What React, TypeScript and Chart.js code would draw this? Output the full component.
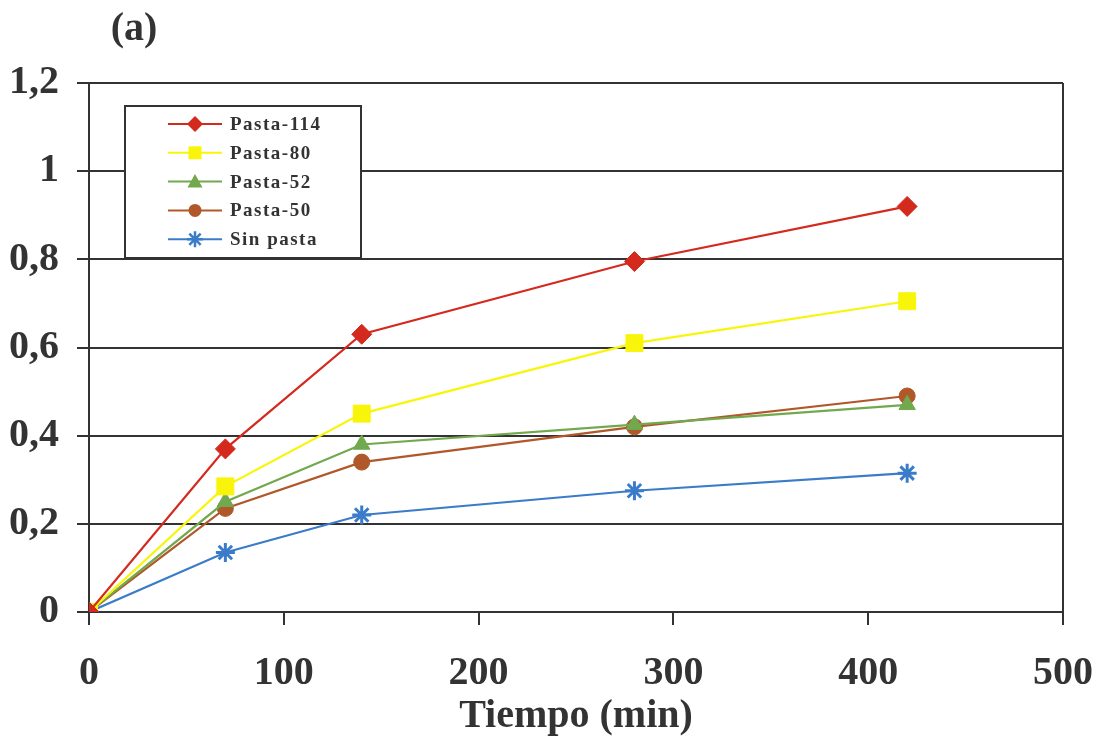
import React, { useEffect, useRef } from 'react';
import { Chart, registerables } from 'chart.js';
Chart.register(...registerables);

const timeMin = [0, 70, 140, 280, 420];
const pasta114 = [0, 0.37, 0.63, 0.795, 0.92];
const pasta80 = [0, 0.285, 0.45, 0.61, 0.705];
const pasta52 = [0, 0.25, 0.38, 0.425, 0.47];
const pasta50 = [0, 0.235, 0.34, 0.42, 0.49];
const sinPasta = [0, 0.135, 0.22, 0.275, 0.315];
const seriesNames = ['Pasta-114', 'Pasta-80', 'Pasta-52', 'Pasta-50', 'Sin pasta'];
const seriesColors = ['#d42a1e', '#f9f50a', '#72a84e', '#b0582a', '#3a7cc9'];
const seriesMarkers = ['rectRot', 'rect', 'triangle', 'circle', 'star'];
const yTickLabels = ['0', '0,2', '0,4', '0,6', '0,8', '1', '1,2'];
const xTitle = 'Tiempo (min)';
const panelLabel = '(a)';

const SERIF = '"Liberation Serif", "Times New Roman", serif';

function drawMarker(ctx: CanvasRenderingContext2D, kind: string, x: number, y: number, color: string) {
  ctx.save();
  ctx.fillStyle = color;
  ctx.strokeStyle = color;
  ctx.lineWidth = 2.5;
  ctx.beginPath();
  if (kind === 'rectRot') {
    const r = 8;
    ctx.moveTo(x, y - r); ctx.lineTo(x + r, y); ctx.lineTo(x, y + r); ctx.lineTo(x - r, y); ctx.closePath(); ctx.fill();
  } else if (kind === 'rect') {
    const r = 6.5;
    ctx.rect(x - r, y - r, 2 * r, 2 * r); ctx.fill();
  } else if (kind === 'triangle') {
    const r = 7.5;
    ctx.moveTo(x, y - r); ctx.lineTo(x + r, y + r * 0.8); ctx.lineTo(x - r, y + r * 0.8); ctx.closePath(); ctx.fill();
  } else if (kind === 'circle') {
    ctx.arc(x, y, 6.5, 0, Math.PI * 2); ctx.fill();
  } else {
    const r = 8;
    for (let i = 0; i < 4; i++) {
      const a = (i * Math.PI) / 4;
      ctx.moveTo(x - r * Math.cos(a), y - r * Math.sin(a));
      ctx.lineTo(x + r * Math.cos(a), y + r * Math.sin(a));
    }
    ctx.stroke();
  }
  ctx.restore();
}

const decorPlugin = {
  id: 'decor',
  afterDraw(chart: any) {
    const ctx: CanvasRenderingContext2D = chart.ctx;
    const ca = chart.chartArea;
    ctx.save();
    ctx.strokeStyle = '#333';
    ctx.lineWidth = 2;
    ctx.beginPath();
    ctx.moveTo(ca.right, ca.top);
    ctx.lineTo(ca.right, ca.bottom);
    ctx.stroke();
    ctx.fillStyle = '#333';
    ctx.font = `bold 40px ${SERIF}`;
    ctx.textAlign = 'center';
    ctx.textBaseline = 'middle';
    ctx.fillText(panelLabel, 134, 30);
    const bx = 125, by = 106, bw = 236, bh = 152;
    ctx.fillStyle = '#fff';
    ctx.fillRect(bx, by, bw, bh);
    ctx.strokeStyle = '#333';
    ctx.lineWidth = 2;
    ctx.strokeRect(bx, by, bw, bh);
    ctx.font = `bold 19px ${SERIF}`;
    (ctx as any).letterSpacing = '1.5px';
    ctx.textAlign = 'left';
    ctx.textBaseline = 'middle';
    for (let i = 0; i < seriesNames.length; i++) {
      const y = 124 + i * 28.8;
      ctx.strokeStyle = seriesColors[i];
      ctx.lineWidth = 2;
      ctx.beginPath();
      ctx.moveTo(168, y);
      ctx.lineTo(222, y);
      ctx.stroke();
      drawMarker(ctx, seriesMarkers[i], 195, y, seriesColors[i]);
      ctx.fillStyle = '#333';
      ctx.fillText(seriesNames[i], 230, y + 1);
    }
    ctx.restore();
  },
};

const markerRadius: Record<string, number> = { rectRot: 10, rect: 12, triangle: 9.5, circle: 8, star: 9.5 };

export default function App() {
  const ref = useRef<HTMLCanvasElement | null>(null);
  useEffect(() => {
    document.body.style.margin = '0';
    const allSeries = [pasta114, pasta80, pasta52, pasta50, sinPasta];
    const datasets = allSeries.map((vals, i) => ({
      label: seriesNames[i],
      data: timeMin.map((t, j) => ({ x: t, y: vals[j] })),
      borderColor: seriesColors[i],
      backgroundColor: seriesColors[i],
      pointBackgroundColor: seriesColors[i],
      pointBorderColor: seriesColors[i],
      pointStyle: seriesMarkers[i] as any,
      pointRadius: markerRadius[seriesMarkers[i]],
      pointBorderWidth: seriesMarkers[i] === 'star' ? 3 : 1,
      borderWidth: 2.2,
      showLine: true,
      tension: 0,
      fill: false,
    }));
    const chart = new Chart(ref.current as HTMLCanvasElement, {
      type: 'scatter',
      data: { datasets: datasets as any },
      plugins: [decorPlugin],
      options: {
        animation: false,
        responsive: false,
        layout: { padding: { top: 83, right: 42, left: 0, bottom: 0 } },
        plugins: { legend: { display: false }, tooltip: { enabled: false } },
        scales: {
          x: {
            type: 'linear',
            min: 0,
            max: 500,
            afterFit: (s: any) => { s.height = 131; s.paddingRight = 0; s.paddingLeft = 0; },
            ticks: {
              stepSize: 100,
              color: '#333',
              padding: 25,
              font: { family: SERIF, size: 40, weight: 'bold' },
              maxRotation: 0,
            },
            grid: { drawOnChartArea: false, drawTicks: true, tickLength: 13, color: '#333', lineWidth: 2 },
            border: { color: '#333', width: 2 },
            title: {
              display: true,
              text: xTitle,
              color: '#333',
              font: { family: SERIF, size: 40, weight: 'bold' },
              padding: { top: 0, bottom: 2 },
            },
          },
          y: {
            min: 0,
            max: 1.2,
            afterFit: (s: any) => { s.width = 89; s.paddingTop = 0; s.paddingBottom = 0; },
            ticks: {
              stepSize: 0.2,
              color: '#333',
              padding: 18,
              font: { family: SERIF, size: 40, weight: 'bold' },
              callback: (_v: any, idx: number) => yTickLabels[idx],
            },
            grid: { color: '#333', lineWidth: 2, tickLength: 12 },
            border: { color: '#333', width: 2 },
          },
        },
      } as any,
    });
    return () => chart.destroy();
  }, []);
  return <canvas ref={ref} width={1105} height={743} style={{ display: 'block' }} />;
}
